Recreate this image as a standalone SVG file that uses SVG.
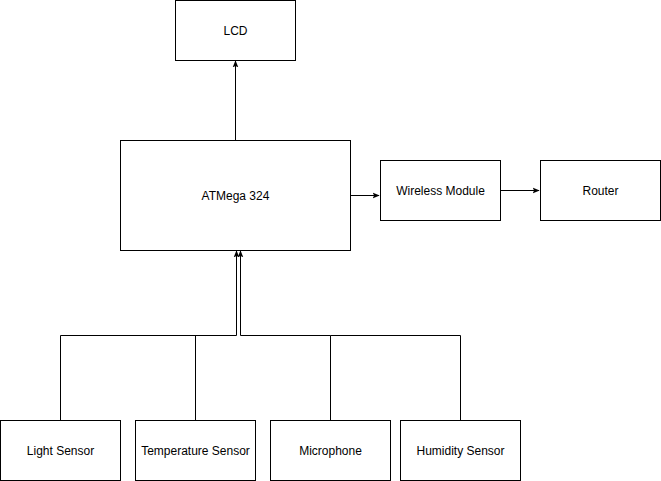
<svg xmlns="http://www.w3.org/2000/svg" width="661" height="481" viewBox="0 0 661 481">
<style>
.n rect{fill:#fff;stroke:#000;stroke-width:1}
.n text{font-family:"Liberation Sans",Arial,sans-serif;font-size:12px;text-anchor:middle;dominant-baseline:central;fill:#000}
.c path{fill:none;stroke:#000;stroke-width:1}
</style>
<defs>
<marker id="a" viewBox="0 0 10 10" refX="9" refY="5" markerWidth="7" markerHeight="7" orient="auto" markerUnits="userSpaceOnUse"><path d="M0,1 L10,5 L0,9 L2,5 Z" fill="#000"/></marker>
</defs>
<rect width="661" height="481" fill="#fff"/>
<g class="c">
<path d="M235.5,140 V61" marker-end="url(#a)"/>
<path d="M350,195.5 H379" marker-end="url(#a)"/>
<path d="M500,190.5 H539" marker-end="url(#a)"/>
<path d="M60.5,420 V335.5 H236.5 V251" marker-end="url(#a)"/>
<path d="M195.5,420 V335.5"/>
<path d="M330.5,420 V335.5 H240.5 V251" marker-end="url(#a)"/>
<path d="M460.5,420 V335.5 H330.5"/>
</g>
<g class="n" id="lcd"><rect x="175.5" y="0.5" width="120" height="60"/><text x="235.5" y="30.5">LCD</text></g>
<g class="n" id="atmega"><rect x="120.5" y="140.5" width="230" height="110"/><text x="235.5" y="195.5">ATMega 324</text></g>
<g class="n" id="wireless"><rect x="380.5" y="160.5" width="120" height="60"/><text x="440.5" y="190.5">Wireless Module</text></g>
<g class="n" id="router"><rect x="540.5" y="160.5" width="120" height="60"/><text x="600.5" y="190.5">Router</text></g>
<g class="n" id="light"><rect x="0.5" y="420.5" width="120" height="60"/><text x="60.5" y="450.5">Light Sensor</text></g>
<g class="n" id="temp"><rect x="135.5" y="420.5" width="120" height="60"/><text x="195.5" y="450.5">Temperature Sensor</text></g>
<g class="n" id="mic"><rect x="270.5" y="420.5" width="120" height="60"/><text x="330.5" y="450.5">Microphone</text></g>
<g class="n" id="hum"><rect x="400.5" y="420.5" width="120" height="60"/><text x="460.5" y="450.5">Humidity Sensor</text></g>
</svg>
